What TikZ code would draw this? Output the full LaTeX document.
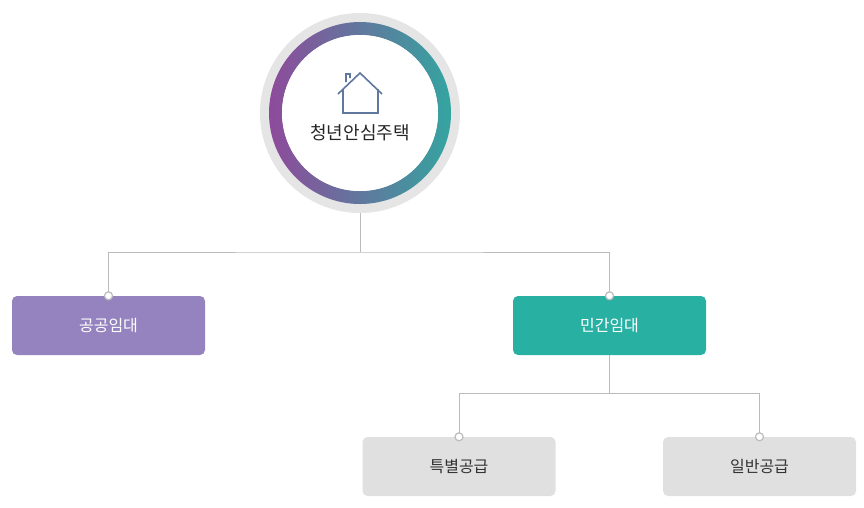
\documentclass[tikz,border=0pt]{standalone}
\usepackage{fontspec}
\setmainfont{Noto Sans CJK KR}
\definecolor{pur}{HTML}{8E4A9B}
\definecolor{tea}{HTML}{34A5A0}
\definecolor{ln}{HTML}{BBBBBB}
\definecolor{boxa}{HTML}{9583BF}
\definecolor{boxb}{HTML}{28B0A3}
\definecolor{boxc}{HTML}{E0E0E0}
\tikzset{
 box/.style={rounded corners=5pt,minimum width=193pt,minimum height=59pt,inner sep=0pt,font=\fontsize{16}{18}\selectfont},
 dot/.style={circle,draw=ln,fill=white,line width=1.2pt,minimum size=8pt,inner sep=0pt},
 conn/.style={ln,line width=0.8pt}
}
\begin{document}
\begin{tikzpicture}[x=1pt,y=-1pt]
\useasboundingbox (0,0) rectangle (864,507);
\fill[gray!20] (360,113) circle (100);
\shade[left color=pur,right color=tea,even odd rule] (360,113) circle (91) (360,113) circle (78);
\fill[white] (360,113) circle (78);
\draw[pur!50!tea,line width=1.6pt,line join=miter]
 (346,82) -- (346,74) -- (350,74) -- (350,78)
 (338,94) -- (360,73) -- (382,94)
 (343,89) -- (343,113) -- (378,113) -- (378,89);
\node[font=\fontsize{18}{20}\selectfont,text=black!85] (title) at (360,133) {청년안심주택};
\coordinate (top) at (360,213);
\node[box,fill=boxa,text=white] (a) at (108.5,325.5) {공공임대};
\node[box,fill=boxb,text=white] (b) at (609.5,325.5) {민간임대};
\node[box,fill=boxc,text=black!80] (c) at (459,466.5) {특별공급};
\node[box,fill=boxc,text=black!80] (d) at (759.5,466.5) {일반공급};
\coordinate (j1) at (360,252);
\coordinate (j2) at (609.5,393);
\draw[conn] (top) -- (j1) (a.north) |- (j1) -| (b.north);
\draw[conn] (b.south) -- (j2) (c.north) |- (j2) -| (d.north);
\foreach \n in {a,b,c,d} \node[dot] at (\n.north) {};
\end{tikzpicture}
\end{document}
